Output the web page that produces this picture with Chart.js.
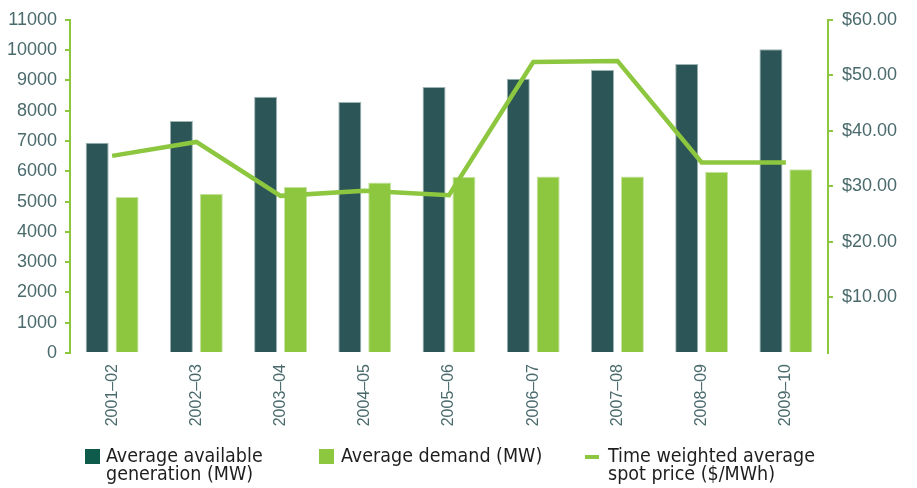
<!DOCTYPE html>
<html>
<head>
<meta charset="utf-8">
<script src="https://cdn.jsdelivr.net/npm/chart.js@4/dist/chart.umd.min.js"></script>
<style>
  html, body { margin: 0; padding: 0; background: #fff; }
  #wrap { position: relative; width: 917px; height: 488px; }
  #grafico { position: absolute; left: 0; top: 0; }
  .leg { position: absolute; font-family: 'Liberation Sans Narrow', 'DejaVu Sans Condensed', sans-serif;
         font-size: 19.5px; line-height: 18px; color: #1e1e1e; }
  .sw { position: absolute; }
</style>
</head>
<body>
<div id="wrap">
  <canvas id="grafico" width="917" height="488"></canvas>
  <div class="sw" style="left:85px;top:449px;width:15px;height:15px;background:#0f5b4b"></div>
  <div class="leg" style="left:106px;top:447px">Average available<br>generation (MW)</div>
  <div class="sw" style="left:319px;top:449px;width:15px;height:15px;background:#8dc63f"></div>
  <div class="leg" style="left:341px;top:447px">Average demand (MW)</div>
  <div class="sw" style="left:585px;top:455px;width:14px;height:4px;background:#8dc63f"></div>
  <div class="leg" style="left:608px;top:447px">Time weighted average<br>spot price ($/MWh)</div>
</div>
<script>
const anos = ['2001–02', '2002–03', '2003–04', '2004–05', '2005–06', '2006–07', '2007–08', '2008–09', '2009–10'];
const geracaoDisponivel = [6940, 7660, 8460, 8290, 8780, 9050, 9340, 9540, 10030];
const demandaMedia = [5150, 5260, 5490, 5630, 5820, 5830, 5830, 5985, 6070];
const precoSpot = [35.5, 38.0, 28.3, 29.2, 28.4, 52.4, 52.6, 34.3, 34.3];

const verde = '#8dc63f';
const escuro = '#2c5557';
const corTexto = '#4a6a6c';

new Chart(document.getElementById('grafico'), {
    type: 'bar',
    data: {
        labels: anos,
        datasets: [{
            type: 'line',
            label: 'Time weighted average spot price ($/MWh)',
            data: precoSpot,
            yAxisID: 'y1',
            borderColor: verde,
            borderWidth: 4.5,
            pointRadius: 0,
            tension: 0,
            order: 0
        }, {
            label: 'Average available generation (MW)',
            data: geracaoDisponivel,
            backgroundColor: escuro,
            borderColor: '#9fb5b5',
            borderWidth: 1,
            order: 1
        }, {
            label: 'Average demand (MW)',
            data: demandaMedia,
            backgroundColor: verde,
            borderColor: '#c8e3a5',
            borderWidth: 1,
            order: 1
        }]
    },
    options: {
        responsive: false,
        animation: false,
        categoryPercentage: 0.71,
        barPercentage: 0.77,
        layout: { padding: { top: 19, bottom: 0 } },
        plugins: { legend: { display: false }, tooltip: { enabled: false } },
        scales: {
            x: {
                grid: { display: false },
                border: { display: false },
                ticks: {
                    minRotation: 90, maxRotation: 90, padding: 3,
                    color: corTexto,
                    font: { family: 'Liberation Sans', size: 16 }
                },
                afterFit: s => { s.height = 135; }
            },
            y: {
                position: 'left',
                min: 0, max: 11000,
                grid: { drawOnChartArea: false, color: verde, lineWidth: 2, tickLength: 5 },
                border: { color: verde, width: 2 },
                ticks: {
                    stepSize: 1000, padding: 8,
                    color: corTexto,
                    font: { family: 'Liberation Sans', size: 18 },
                    callback: v => String(v)
                },
                afterFit: s => { s.width = 70; }
            },
            y1: {
                position: 'right',
                min: 0, max: 60,
                grid: {
                    drawOnChartArea: false, lineWidth: 2, tickLength: 5,
                    color: ctx => ctx.tick && ctx.tick.value === 0 ? 'rgba(0,0,0,0)' : verde
                },
                border: { color: verde, width: 2 },
                ticks: {
                    stepSize: 10, padding: 9,
                    color: corTexto,
                    font: { family: 'Liberation Sans', size: 18 },
                    callback: v => v === 0 ? '' : '$' + v.toFixed(2)
                },
                afterFit: s => { s.width = 89; }
            }
        }
    }
});
</script>
</body>
</html>
